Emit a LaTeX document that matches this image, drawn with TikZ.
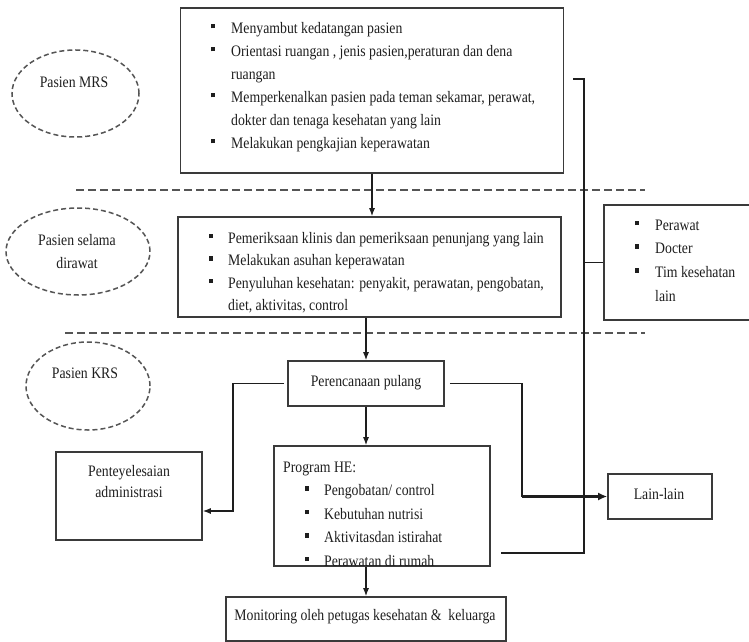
\documentclass[tikz,border=0pt]{standalone}
\usepackage{fontspec}
\setmainfont{Liberation Serif}[FakeStretch=0.86]
\usetikzlibrary{arrows.meta,shapes.geometric,calc}
\definecolor{ink}{HTML}{1E1E1E}
\definecolor{frame}{HTML}{3A3A3A}
\definecolor{dashc}{HTML}{555555}
\newcommand{\bl}[1]{\makebox[#1][l]{\rule[5pt]{3.5pt}{4.5pt}}}
\newcommand{\lst}[3]{\parbox[t]{#1}{\fontsize{16}{#2}\selectfont #3}}
\tikzset{
  box/.style={draw=frame, line width=1.6pt, rectangle, inner sep=0pt},
  ell/.style={draw=dashc, ellipse, line width=1.5pt, dash pattern=on 5pt off 3pt, inner sep=0pt},
  sepline/.style={draw=dashc, line width=2.2pt, dash pattern=on 8pt off 4pt},
  conn/.style={draw=ink, line width=1.2pt},
  arr/.style={conn, -{Latex[length=8pt,width=6pt]}},
  thickarr/.style={draw=ink, line width=3pt, -{Latex[length=9pt,width=8pt]}},
  txt/.style={inner sep=0pt, anchor=base west, text=ink},
  ctxt/.style={inner sep=0pt, text=ink, align=center}
}
\begin{document}
\begin{tikzpicture}[x=1pt,y=-1pt,font=\fontsize{16}{23}\selectfont]
\useasboundingbox (0,0) rectangle (749,642);
\clip (0,0) rectangle (749,642);
\fill[white] (0,0) rectangle (749,642);

% separators
\coordinate (s1a) at (76,190); \coordinate (s1b) at (645,190);
\coordinate (s2a) at (65,333); \coordinate (s2b) at (645,333);
\draw[sepline] (s1a) -- (s1b);
\draw[sepline] (s2a) -- (s2b);

% ellipses
\node[ell, minimum width=127pt, minimum height=87pt] (e1) at (75.5,93.5) {};
\node[ctxt] (e1t) at (74,82) {Pasien MRS};
\node[ell, minimum width=144pt, minimum height=87pt] (e2) at (78,251.5) {};
\node[ctxt] (e2t) at (77,251.5) {Pasien selama\\dirawat};
\node[ell, minimum width=124pt, minimum height=88pt] (e3) at (88,386) {};
\node[ctxt] (e3t) at (85,373) {Pasien KRS};

% boxes
\node[box, minimum width=383pt, minimum height=165pt, fill=white] (box1) at (372,90.5) {};
\node[box, minimum width=383pt, minimum height=100pt, fill=white] (box2) at (369.5,267) {};
\node[box, minimum width=156pt, minimum height=115pt, fill=white] (staff) at (682,262.5) {};
\node[box, minimum width=156pt, minimum height=45pt, fill=white] (peren) at (366,383.5) {};
\node[box, minimum width=146pt, minimum height=88pt, fill=white] (pent) at (129,496) {};
\node[box, minimum width=104pt, minimum height=45pt, fill=white] (lain) at (660,496.5) {};
\node[box, minimum width=216pt, minimum height=120pt, fill=white] (he) at (382,506) {};
\node[box, minimum width=280pt, minimum height=44pt, fill=white] (mon) at (366,619) {};

% texts
\node[txt] (t1) at (211,33.5) {\lst{360pt}{23}{%
\bl{20pt}Menyambut kedatangan pasien\\
\bl{20pt}Orientasi ruangan , jenis pasien,peraturan dan dena\\
\hspace*{20pt}ruangan\\
\bl{20pt}Memperkenalkan pasien pada teman sekamar, perawat,\\
\hspace*{20pt}dokter dan tenaga kesehatan yang lain\\
\bl{20pt}Melakukan pengkajian keperawatan}};
\node[txt] (t2) at (209,243) {\lst{360pt}{22.5}{%
\bl{19pt}Pemeriksaan klinis dan pemeriksaan penunjang yang lain\\
\bl{19pt}Melakukan asuhan keperawatan\\
\bl{19pt}Penyuluhan kesehatan: penyakit, perawatan, pengobatan,\\
\hspace*{19pt}diet, aktivitas, control}};
\node[txt] (t3) at (635,230) {\lst{120pt}{23.8}{%
\bl{20pt}Perawat\\
\bl{20pt}Docter\\
\bl{20pt}Tim kesehatan\\
\hspace*{20pt}lain}};
\node[ctxt] (t4) at (366,382.5) {Perencanaan pulang};
\node[ctxt, font=\fontsize{16}{21}\selectfont] (t5) at (129,482) {Penteyelesaian\\administrasi};
\node[ctxt] (t6) at (659,494) {Lain-lain};
\node[txt] (t7) at (283,472) {\lst{200pt}{23.5}{%
Program HE:\\
\hspace*{22pt}\bl{19pt}Pengobatan/ control\\
\hspace*{22pt}\bl{19pt}Kebutuhan nutrisi\\
\hspace*{22pt}\bl{19pt}Aktivitasdan istirahat\\
\hspace*{22pt}\bl{19pt}Perawatan di rumah}};
\node[ctxt] (t8) at (365,617) {Monitoring oleh petugas kesehatan \&\ \ keluarga};

% connectors
\draw[arr] (box1) -- (box1 |- box2.north);
\draw[arr] (peren |- box2.south) -- (peren.north);
\draw[arr] (peren.south) -- (peren.south |- he.north);
\draw[arr] (mon |- he.south) -- (mon.north);

\coordinate (pl) at (233,511);
\draw[arr] ([xshift=-3pt]peren.west) -| (pl) -- (pl -| pent.east);
\coordinate (pr) at (522,496.5);
\draw[conn] ([xshift=5pt]peren.east) -| (pr);
\draw[thickarr] (pr) -- (lain.west);

\coordinate (jt) at (584,79);
\coordinate (jb) at (584,553);
\draw[conn] ([xshift=9pt]jt -| box1.east) -- (jt) -- (jb) -- ([xshift=10pt]jb -| he.east);
\draw[conn] (jt |- staff.west) -- (staff.west);
\end{tikzpicture}
\end{document}
